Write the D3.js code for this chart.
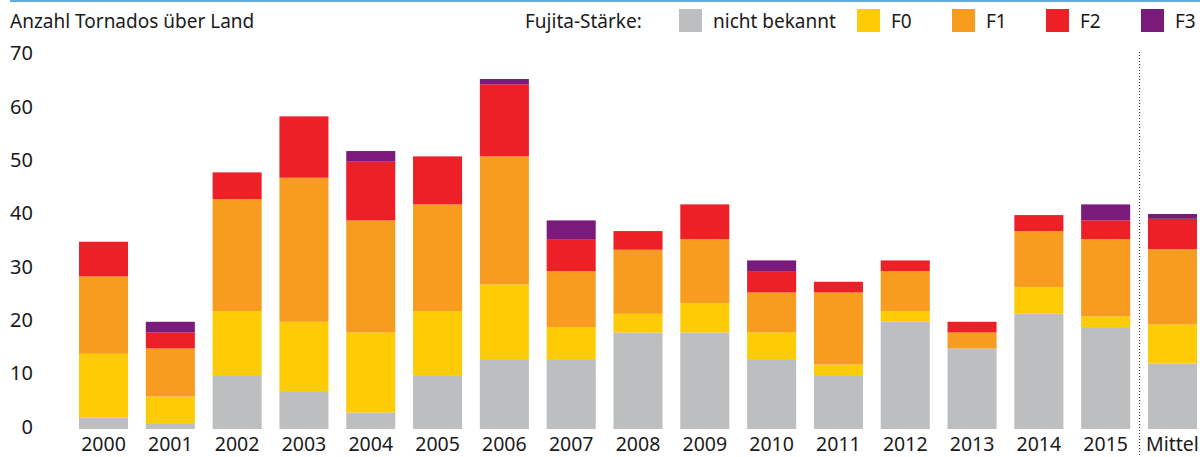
<!DOCTYPE html>
<html>
<head>
<meta charset="utf-8">
<script src="https://cdn.jsdelivr.net/npm/d3@7"></script>
<style>
  body { margin: 0; background: #fff; }
  svg { display: block; font-family: "Noto Sans", sans-serif; }
</style>
</head>
<body>
<svg width="1200" height="457"></svg>
<script>
const years = ["2000","2001","2002","2003","2004","2005","2006","2007","2008","2009","2010","2011","2012","2013","2014","2015","Mittel"];
const keys = ["nb", "f0", "f1", "f2", "f3"];
const keyLabels = ["nicht bekannt", "F0", "F1", "F2", "F3"];
const colors = ["#bdbec0", "#ffcb05", "#f89c1f", "#ed1f27", "#7a1a7a"];

const nichtBekannt = [2, 1, 10, 7, 3, 10, 13, 13, 18, 18, 13, 10, 20, 15, 21.5, 19, 12.2];
const f0 = [12, 5, 12, 13, 15, 12, 14, 6, 3.5, 5.5, 5, 2, 2, 0, 5, 2, 7.3];
const f1 = [14.5, 9, 21, 27, 21, 20, 24, 10.5, 12, 12, 7.5, 13.5, 7.5, 3, 10.5, 14.5, 14.1];
const f2 = [6.5, 3, 5, 11.5, 11, 9, 13.5, 6, 3.5, 6.5, 4, 2, 2, 2, 3, 3.5, 5.7];
const f3 = [0, 2, 0, 0, 2, 0, 1, 3.5, 0, 0, 2, 0, 0, 0, 0, 3, 0.9];
const yTicks = [0, 10, 20, 30, 40, 50, 60, 70];

const textColor = "#1a1a1a";
const svg = d3.select("svg");

const data = years.map((y, i) => ({
  year: y, nb: nichtBekannt[i], f0: f0[i], f1: f1[i], f2: f2[i], f3: f3[i]
}));

const x = d3.scaleBand().domain(years).range([79, 1197]).paddingInner(0.266).paddingOuter(0);
const y = d3.scaleLinear().domain([0, 70]).range([428.5, 55]);
const color = d3.scaleOrdinal().domain(keys).range(colors);

const series = d3.stack().keys(keys)(data);

// top rule
svg.append("rect").attr("x", 10).attr("y", 0).attr("width", 1190).attr("height", 2).attr("fill", "#63addf");

// title
svg.append("text")
  .attr("x", 10).attr("y", 28)
  .style("font-size", "19px").attr("fill", textColor)
  .text("Anzahl Tornados über Land");

// bars
svg.append("g")
  .selectAll("g")
  .data(series)
  .join("g")
  .attr("fill", d => color(d.key))
  .selectAll("rect")
  .data(d => d)
  .join("rect")
  .attr("x", d => x(d.data.year))
  .attr("width", x.bandwidth())
  .attr("y", d => y(d[1]))
  .attr("height", d => d[1] > d[0] ? y(d[0]) - y(d[1]) + (d[0] === 0 ? 0.5 : 0) : 0);

// y axis labels
svg.append("g")
  .selectAll("text")
  .data(yTicks)
  .join("text")
  .attr("x", 33)
  .attr("y", d => y(d) - 2)
  .attr("dy", "0.36em")
  .attr("text-anchor", "end")
  .style("font-size", "20px")
  .attr("fill", textColor)
  .text(d => d);

// x axis labels
svg.append("g")
  .selectAll("text")
  .data(years)
  .join("text")
  .attr("x", d => x(d) + x.bandwidth() / 2)
  .attr("y", 451)
  .attr("text-anchor", "middle")
  .style("font-size", "19.5px")
  .attr("fill", textColor)
  .text(d => d);

// separator before Mittel
const sepX = (x("2015") + x.bandwidth() + x("Mittel")) / 2 + 0.5;
svg.append("line")
  .attr("x1", sepX).attr("x2", sepX)
  .attr("y1", 52).attr("y2", 455)
  .attr("stroke", "#222")
  .attr("stroke-width", 1)
  .attr("stroke-dasharray", "1,2");

// legend
svg.append("text")
  .attr("x", 525).attr("y", 28)
  .style("font-size", "19px").attr("fill", textColor)
  .text("Fujita-Stärke:");

const legendX = [679, 857, 952, 1046, 1141];
const legend = svg.append("g");
keys.forEach((k, i) => {
  legend.append("rect")
    .attr("x", legendX[i]).attr("y", 9)
    .attr("width", 23).attr("height", 23)
    .attr("fill", color(k));
  legend.append("text")
    .attr("x", legendX[i] + 34).attr("y", 28)
    .style("font-size", "19px").attr("fill", textColor)
    .text(keyLabels[i]);
});
</script>
</body>
</html>
